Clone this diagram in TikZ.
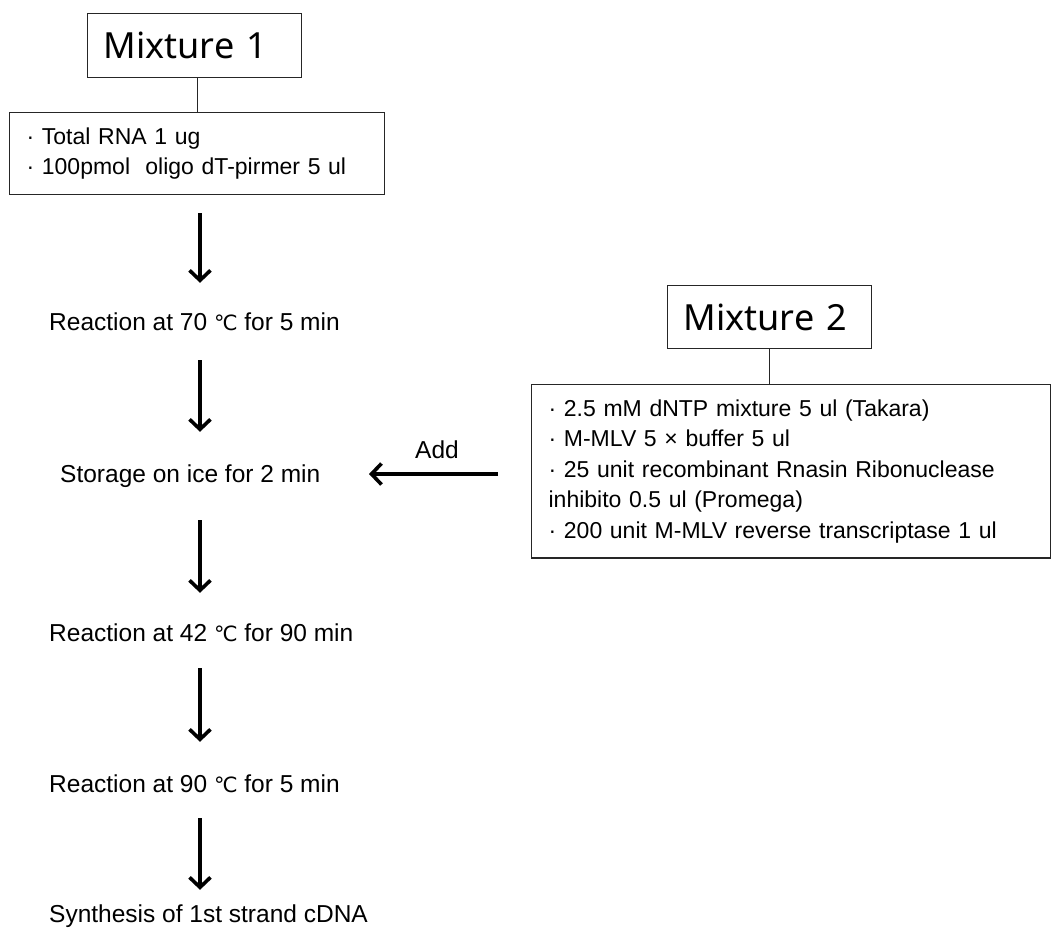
\documentclass[tikz,border=0pt]{standalone}
\usepackage{fontspec}
\setmainfont{Liberation Sans}
\newfontfamily\headfont{Noto Sans}
\newfontfamily\symfont{DejaVu Sans}
\usepackage{tikz}
\usetikzlibrary{calc}
\usetikzlibrary{arrows.meta}
\newcommand{\degc}{{\symfont\fontsize{21}{21}\selectfont ℃}}
\newcommand{\steptext}[4]{\node[steptext] (#1) at ( #2 , #3 ) {#4};}
\newcommand{\flowarrow}[4]{\draw[flow, shorten <=#3pt, shorten >=#4pt] (#1.south -| axis) -- (#2.north -| axis);}
\tikzset{
  headbox/.style={draw=black!85, line width=1.2pt, anchor=north west, inner xsep=16pt, inner ysep=0pt, align=left, font=\headfont\fontsize{36}{40}\selectfont},
  listbox/.style={draw=black!85, line width=1.2pt, anchor=north west, inner xsep=17pt, inner ysep=15pt, align=left, font=\fontsize{23}{30.5}\selectfont},
  steptext/.style={anchor=base west, inner sep=0pt, text height=18pt, text depth=5pt, font=\fontsize{24.5}{28}\selectfont},
  flow/.style={line width=3.6pt, -{Straight Barb[length=10pt,width=21pt,line width=3.6pt]}},
  link/.style={line width=1.2pt, draw=black!85}
}

\begin{document}
\begin{tikzpicture}[x=1pt, y=-1pt]
\useasboundingbox (0,0) rectangle (1051,930);
\coordinate (axis) at (200,0);
% mixture 1
\node[headbox, text width=182pt, minimum height=64pt] (mix1) at (87,13) {Mixture 1};
\node[listbox, text width=341pt] (box1) at (9,112) {· Total RNA 1 ug\\· 100pmol \ oligo dT-pirmer 5 ul};
\draw[link] (box1.north |- mix1.south) -- (box1.north);
% mixture 2
\node[headbox, text width=172pt, minimum height=63pt] (mix2) at (667,285) {Mixture 2};
\node[listbox, text width=485pt] (list2) at (531,384) {· 2.5 mM dNTP mixture 5 ul (Takara)\\· M-MLV 5 × buffer 5 ul\\· 25 unit recombinant Rnasin Ribonuclease\\inhibito 0.5 ul (Promega)\\· 200 unit M-MLV reverse transcriptase 1 ul};
\draw[link] (mix2.south) -- (mix2.south |- list2.north);
% steps
\steptext{r70}{49}{330}{Reaction at 70 \degc\ for 5 min}
\steptext{store}{60}{482}{Storage on ice for 2 min}
\steptext{r42}{49}{641}{Reaction at 42 \degc\ for 90 min}
\steptext{r90}{49}{792}{Reaction at 90 \degc\ for 5 min}
\steptext{syn}{49}{922}{Synthesis of 1st strand cDNA}
% arrows down
\flowarrow{box1}{r70}{18}{29}
\flowarrow{r70}{store}{25}{32}
\flowarrow{store}{r42}{33}{30}
\flowarrow{r42}{r90}{22}{32}
\flowarrow{r90}{syn}{21}{14}
% add
\coordinate (addtip) at (369,474);
\node[steptext, anchor=base] (add) at (437,458) {Add};
\draw[flow, shorten <=33pt] (list2.west |- addtip) -- (addtip);
\end{tikzpicture}
\end{document}
